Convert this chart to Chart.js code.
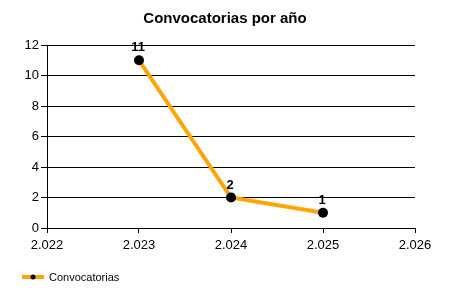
<!DOCTYPE html>
<html><head><meta charset="utf-8">
<script src="https://cdn.jsdelivr.net/npm/chart.js@4"></script>
<style>html,body{margin:0;padding:0;background:#fff}#w{width:450px;height:300px}</style>
</head><body><div id="w"><canvas id="c"></canvas></div>
<script>
const titleText = "Convocatorias por año";
const seriesName = "Convocatorias";
const xValues = [2.023, 2.024, 2.025];
const yValues = [11, 2, 1];
const xMin = 2.022, xMax = 2.026, xStep = 0.001;
const yMin = 0, yMax = 12, yStep = 2;

const FONT = "'Liberation Sans', Arial, sans-serif";

const labelPlugin = {
  id: 'pointLabels',
  afterDatasetsDraw(chart) {
    const ctx = chart.ctx;
    const meta = chart.getDatasetMeta(0);
    ctx.save();
    ctx.font = "bold 13px " + FONT;
    ctx.fillStyle = "#000";
    ctx.textAlign = "center";
    ctx.textBaseline = "alphabetic";
    meta.data.forEach((pt, i) => {
      ctx.fillText(String(yValues[i]), pt.x - 1, pt.y - 9);
    });
    ctx.restore();
  }
};

const titlePlugin = {
  id: 'customTitle',
  afterDraw(chart) {
    const ctx = chart.ctx;
    ctx.save();
    ctx.font = "bold 15px " + FONT;
    ctx.fillStyle = '#000';
    ctx.textAlign = 'center';
    ctx.textBaseline = 'middle';
    ctx.fillText(titleText, 225, 19);
    ctx.restore();
  }
};

const legendPlugin = {
  id: 'customLegend',
  afterDraw(chart) {
    const ctx = chart.ctx;
    const y = 277;
    ctx.save();
    ctx.strokeStyle = '#FFA500';
    ctx.lineWidth = 4;
    ctx.beginPath(); ctx.moveTo(22, y); ctx.lineTo(44, y); ctx.stroke();
    ctx.fillStyle = '#000';
    ctx.beginPath(); ctx.arc(33, y, 2.5, 0, Math.PI*2); ctx.fill();
    ctx.font = "11px " + FONT;
    ctx.textBaseline = 'middle';
    ctx.textAlign = 'left';
    ctx.fillText(seriesName, 49, y + 1);
    ctx.restore();
  }
};

new Chart(document.getElementById('c'), {
  type: 'line',
  data: {
    datasets: [{
      label: seriesName,
      data: xValues.map((x, i) => ({x, y: yValues[i]})),
      borderColor: '#FFA500',
      borderWidth: 4,
      pointBackgroundColor: '#000',
      pointBorderColor: '#000',
      pointRadius: 5,
      pointBorderWidth: 0,
      tension: 0,
      fill: false
    }]
  },
  options: {
    responsive: true,
    maintainAspectRatio: false,
    animation: false,
    devicePixelRatio: 1,
    layout: { padding: { left: 0, right: 35, top: 45, bottom: 0 } },
    plugins: {
      legend: { display: false },
      tooltip: { enabled: false },
      title: { display: false }
    },
    scales: {
      x: {
        type: 'linear', min: xMin, max: xMax,
        ticks: { stepSize: xStep, color: '#000', font: { family: FONT, size: 13 }, padding: 5,
          callback: v => Number(v).toFixed(3), maxRotation: 0 },
        grid: { drawOnChartArea: false, color: '#000', tickLength: 5 },
        border: { color: '#000' },
        afterFit(s) { s.height = 72; }
      },
      y: {
        min: yMin, max: yMax,
        ticks: { stepSize: yStep, color: '#000', font: { family: FONT, size: 13 }, padding: 2 },
        grid: { color: '#000', tickLength: 6 },
        border: { color: '#000' },
        afterFit(s) { s.width = 47; }
      }
    }
  },
  plugins: [labelPlugin, titlePlugin, legendPlugin]
});
</script></body></html>
